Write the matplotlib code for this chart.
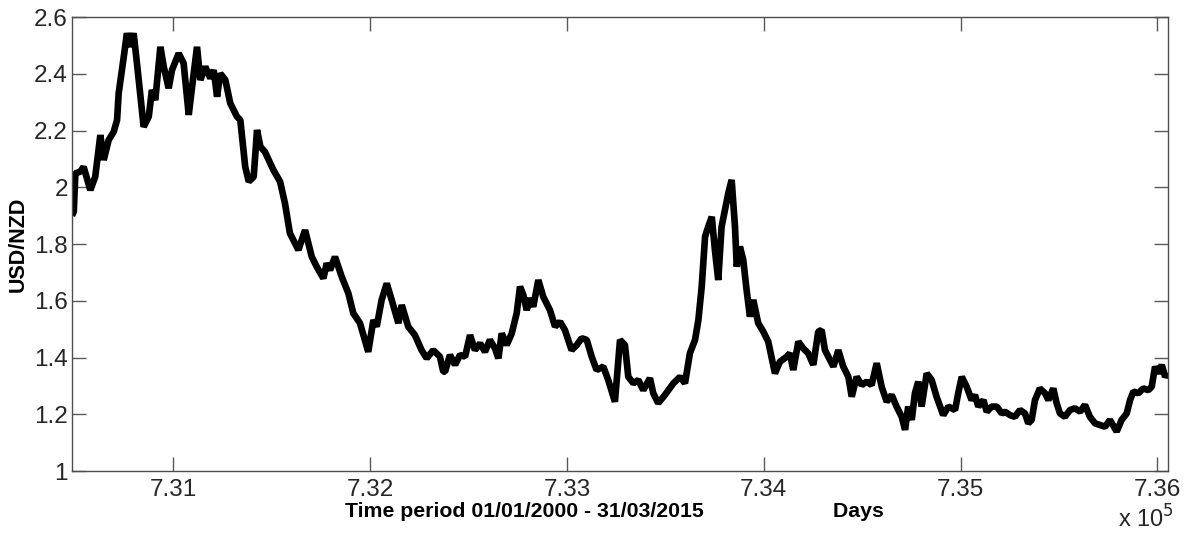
import matplotlib
matplotlib.use("Agg")
import matplotlib.pyplot as plt
from matplotlib.ticker import FixedLocator, FuncFormatter
import numpy as np

# datenum of 01/01/2000; day offsets from it
t0 = 730486
day_offset = [
    0, 9, 17, 42, 59, 93, 118, 144, 161, 186, 212, 229, 237, 263, 279, 296, 313,
    330, 364, 390, 406, 423, 449, 466, 491, 508, 542, 567, 593, 610, 635, 652,
    677, 703, 720, 737, 753, 779, 804, 838, 855, 880, 898, 923, 940, 957,
    980, 1023, 1057, 1082, 1107, 1150, 1184, 1218, 1243, 1277, 1294, 1311,
    1336, 1370, 1404, 1429, 1463, 1505, 1531, 1548, 1573, 1599, 1624, 1658,
    1675, 1708, 1742, 1776, 1802, 1835, 1869, 1886,
    1895, 1920, 1946, 1971, 1997, 2022, 2047, 2073, 2098, 2123, 2149, 2166,
    2183, 2208, 2234, 2259, 2276, 2293, 2310, 2327, 2343, 2369, 2394, 2428,
    2454, 2479, 2504, 2538, 2564, 2589, 2615, 2640, 2665, 2699, 2724, 2758,
    2784, 2809, 2826, 2852, 2877, 2902, 2936, 2953, 2978, 3012, 3055, 3089,
    3114, 3139, 3165, 3182, 3199, 3216, 3232, 3250, 3266, 3283, 3300, 3317,
    3334, 3351, 3368, 3377, 3393, 3410, 3427, 3444, 3461, 3486, 3512, 3537,
    3571, 3596, 3631, 3647, 3664, 3690,
    3715, 3740, 3766, 3791, 3808, 3825, 3851, 3868, 3893, 3918, 3944, 3961,
    3986, 4012, 4037, 4062, 4088, 4113, 4139, 4164, 4189, 4215, 4232, 4248,
    4266, 4282, 4299, 4316, 4342, 4367, 4392, 4426, 4452, 4486, 4502, 4520,
    4545, 4570,
    4587, 4604, 4630, 4647, 4672, 4698, 4723, 4740, 4765, 4790, 4816, 4841,
    4858, 4875, 4892, 4917, 4943, 4960, 4985, 5002, 5019, 5044, 5070, 5095,
    5121, 5146, 5171, 5197, 5222, 5248, 5273, 5307, 5332, 5358, 5375, 5392,
    5417, 5442, 5468, 5485, 5502, 5518, 5536, 5553, 5568,
]
usd_nzd = [
    1.90, 1.914, 2.049, 2.055, 2.072, 1.990, 2.037, 2.184, 2.096, 2.166, 2.196,
    2.237, 2.331, 2.460, 2.543, 2.495, 2.543, 2.437, 2.213, 2.249, 2.343,
    2.307, 2.495, 2.425, 2.349, 2.413, 2.472, 2.437, 2.255, 2.354, 2.495,
    2.378, 2.425, 2.384, 2.413, 2.319, 2.401, 2.378, 2.296, 2.249, 2.237,
    2.072, 2.020, 2.037, 2.202, 2.143,
    2.125, 2.061, 2.020, 1.943, 1.838, 1.779, 1.849, 1.755, 1.720, 1.679,
    1.732, 1.708, 1.755, 1.685, 1.626, 1.556, 1.521, 1.420, 1.532, 1.509,
    1.603, 1.661, 1.603, 1.521, 1.585, 1.509, 1.479, 1.426, 1.397, 1.426,
    1.403, 1.350,
    1.350, 1.409, 1.374, 1.409, 1.403, 1.479, 1.426, 1.450, 1.420, 1.462,
    1.432, 1.397, 1.485, 1.444, 1.485, 1.556, 1.650, 1.620, 1.567, 1.609,
    1.579, 1.673, 1.614, 1.567, 1.509, 1.526, 1.497, 1.426, 1.444, 1.468,
    1.462, 1.403, 1.356, 1.368, 1.321, 1.244, 1.462, 1.444, 1.332, 1.309,
    1.321, 1.285, 1.327, 1.274, 1.239, 1.268, 1.309, 1.332, 1.309, 1.415,
    1.462, 1.532, 1.650, 1.826, 1.861, 1.896, 1.779, 1.673, 1.861, 1.920,
    1.979, 2.026, 1.861, 1.720, 1.791, 1.744, 1.638, 1.544, 1.603, 1.521,
    1.491, 1.456, 1.344, 1.385, 1.403, 1.415, 1.356, 1.456,
    1.432, 1.415, 1.374, 1.491, 1.497, 1.426, 1.391, 1.368, 1.426, 1.368,
    1.332, 1.262, 1.332, 1.303, 1.315, 1.303, 1.380, 1.297, 1.244, 1.268,
    1.227, 1.191, 1.145, 1.227, 1.180, 1.274, 1.315, 1.227, 1.344, 1.321,
    1.262, 1.197, 1.227, 1.215, 1.274, 1.332, 1.297, 1.250,
    1.268, 1.227, 1.250, 1.209, 1.227, 1.227, 1.203, 1.209, 1.197, 1.191,
    1.215, 1.203, 1.168, 1.180, 1.250, 1.291, 1.274, 1.250, 1.291, 1.239,
    1.203, 1.191, 1.215, 1.221, 1.209, 1.233, 1.191, 1.168, 1.162, 1.156,
    1.180, 1.139, 1.180, 1.203, 1.250, 1.280, 1.274, 1.291, 1.285, 1.297,
    1.368, 1.344, 1.374, 1.332, 1.344,
]
x_ticks = [731000, 732000, 733000, 734000, 735000, 736000]
y_ticks = [1.0, 1.2, 1.4, 1.6, 1.8, 2.0, 2.2, 2.4, 2.6]

plt.rcParams["font.family"] = ["Liberation Sans", "DejaVu Sans"]

days = t0 + np.array(day_offset)
fig = plt.figure(figsize=(11.98, 5.37), dpi=100)
ax = fig.add_axes([0.0601, 0.1229, 0.9149, 0.8454])
ax.plot(days, usd_nzd, color="k", lw=4.8, solid_joinstyle="bevel",
        solid_capstyle="butt")

ax.set_xlim(t0, t0 + 5568)
ax.set_ylim(1.0, 2.6)
ax.xaxis.set_major_locator(FixedLocator(x_ticks))
ax.yaxis.set_major_locator(FixedLocator(y_ticks))
ax.xaxis.set_major_formatter(FuncFormatter(lambda v, p: f"{v / 1e5:.2f}"))
ax.yaxis.set_major_formatter(FuncFormatter(lambda v, p: f"{v:g}"))
ax.tick_params(direction="in", length=10, width=1, color="0.35",
               top=True, right=True, labelsize=17.5, labelcolor="0.15")
ax.tick_params(axis="x", pad=6)
ax.tick_params(axis="y", pad=3)
for s in ax.spines.values():
    s.set_color("0.3")
    s.set_linewidth(1)

fig.text(18 / 1198, 0.545, "USD/NZD", fontsize=15.5, fontweight="bold",
         rotation=90, ha="center", va="center")
fig.text(0.513, 0.047, "Time period 01/01/2000 - 31/03/2015" + " " * 22 + "Days",
         fontsize=15.3, fontweight="bold", ha="center", va="center")
fig.text(0.933, 0.018, r"x 10$^5$", fontsize=17, color="0.15")

fig.savefig("out.png", dpi=100)
